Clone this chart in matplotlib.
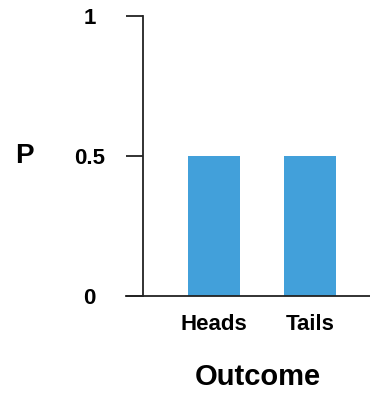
import matplotlib
matplotlib.use("Agg")
import matplotlib.pyplot as plt

outcomes = ["Heads", "Tails"]
probs = [0.5, 0.5]
yticks = [0, 0.5, 1]
yticklabels = ["0", "0.5", "1"]

plt.rcParams["font.family"] = ["Liberation Sans", "DejaVu Sans"]
plt.rcParams["font.weight"] = "bold"

fig = plt.figure(figsize=(3.7, 3.94), dpi=100)
# axes spans the x-axis line (126..370 px) and y from 0 (296 px) to 1 (16 px)
ax = fig.add_axes([126 / 370, (394 - 296) / 394, (370 - 126) / 370, 280 / 394])

x = list(range(len(outcomes)))
ax.bar(x, probs, width=0.55, color="#42a0da")
ax.set_xlim(-0.917, 1.625)
ax.set_ylim(0, 1)

for s in ("top", "right"):
    ax.spines[s].set_visible(False)
ax.spines["left"].set_position(("data", -0.74))
for s in ("left", "bottom"):
    ax.spines[s].set_linewidth(1.3)
    ax.spines[s].set_color("#222222")

ax.set_yticks(yticks)
ax.set_yticklabels(yticklabels, ha="center", fontsize=16, fontweight="bold")
ax.tick_params(axis="y", length=12.5, width=1.3, color="#222222", pad=26)
ax.set_xticks(x)
ax.set_xticklabels(outcomes, fontsize=16, fontweight="bold")
ax.tick_params(axis="x", length=0, pad=13)

ax.set_ylabel("P", rotation=0, fontsize=20, fontweight="bold", va="center", ha="center")
ax.yaxis.set_label_coords(-0.418, 0.5)
ax.set_xlabel("Outcome", fontsize=21, fontweight="bold", va="center")
ax.xaxis.set_label_coords(0.541, -0.289)

fig.savefig("out.png", dpi=100)
